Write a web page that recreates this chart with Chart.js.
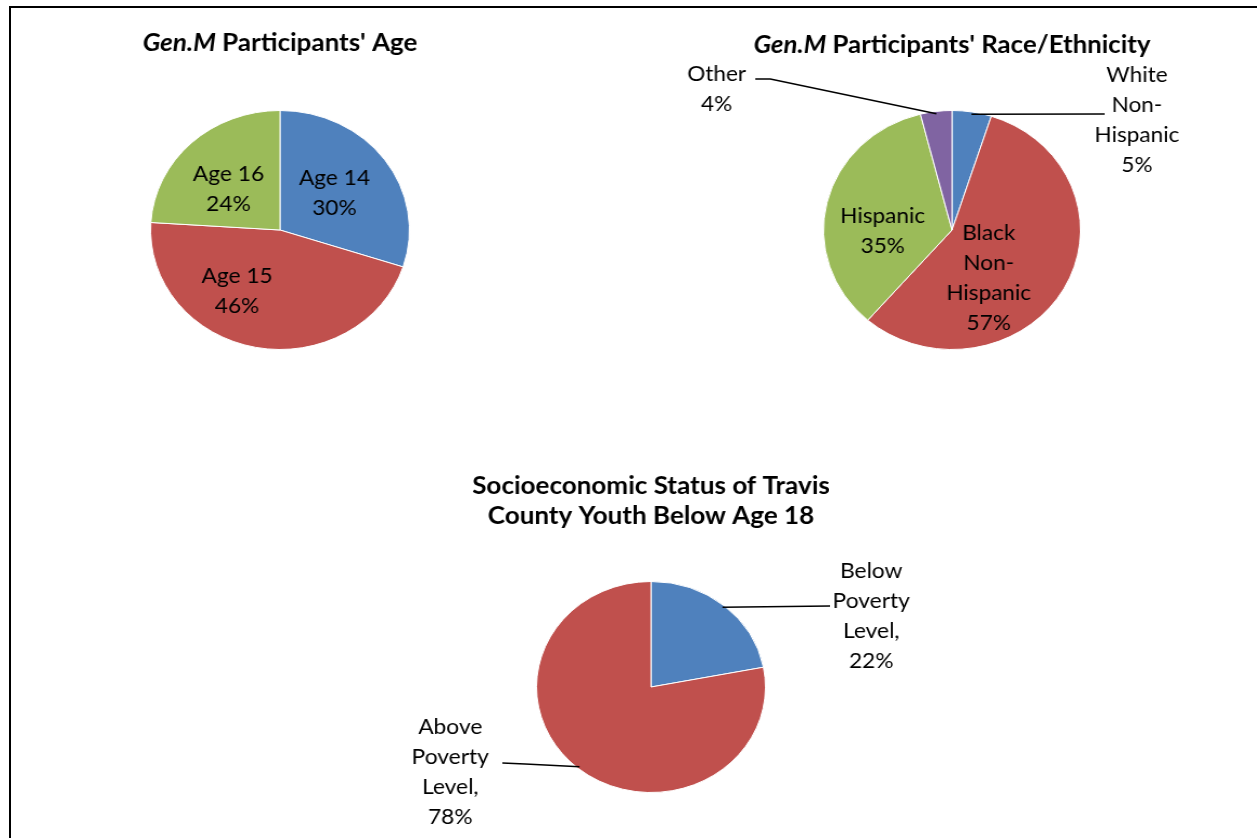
<!DOCTYPE html>
<html>
<head>
<meta charset="utf-8">
<title>Gen.M participants</title>
<script src="https://cdn.jsdelivr.net/npm/chart.js@4.4.0/dist/chart.umd.min.js"></script>
<style>
  html, body { margin: 0; padding: 0; background: #fff; }
  #page { position: relative; width: 1257px; height: 838px; overflow: hidden; background: #fff; }
  #frame { position: absolute; left: 9px; top: 6px; width: 1400px; height: 1000px; border: 2px solid #000; }
  canvas { position: absolute; }
</style>
</head>
<body>
<div id="page">
  <div id="frame"></div>
  <canvas id="ageChart" width="620" height="420"
    style="left:0;top:0;width:620px;height:420px;transform-origin:280px 230px;transform:scaleX(1.083);"></canvas>
  <canvas id="raceChart" width="637" height="420"
    style="left:620px;top:0;width:637px;height:420px;transform-origin:332px 230px;transform:scaleX(1.075);"></canvas>
  <canvas id="povertyChart" width="700" height="418"
    style="left:300px;top:420px;width:700px;height:418px;transform-origin:351px 267px;transform:scaleX(1.085);"></canvas>
</div>
<script>
// data
const ageLabels = ['Age 14', 'Age 15', 'Age 16'];
const ageValues = [30, 46, 24];

const raceLabels = ['White Non-Hispanic', 'Black Non-Hispanic', 'Hispanic', 'Other'];
const raceValues = [5, 57, 35, 4];

const povertyLabels = ['Below Poverty Level', 'Above Poverty Level'];
const povertyValues = [22, 78];

const blue = '#4F81BD', red = '#C0504D', green = '#9BBB59', purple = '#8064A2';

// labels on / around the slices
const pieLabels = {
  id: 'pieLabels',
  afterDatasetsDraw(chart, args, opts) {
    const ctx = chart.ctx;
    const meta = chart.getDatasetMeta(0);
    const values = chart.data.datasets[0].data;
    ctx.save();
    ctx.font = opts.font;
    ctx.fillStyle = '#000';
    ctx.strokeStyle = '#000';
    ctx.lineWidth = 1.5;
    ctx.textAlign = 'center';
    ctx.textBaseline = 'middle';
    meta.data.forEach((arc, i) => {
      const p = arc.getProps(['x', 'y', 'startAngle', 'endAngle', 'outerRadius'], true);
      const mid = (p.startAngle + p.endAngle) / 2;
      const place = opts.place[i];
      let name = chart.data.labels[i] + (opts.sep || '');
      let lines = place.split ? name.split(/ |(?<=-)/) : [name];
      lines.push(values[i] + '%');

      let cx, cy;
      if (place.out) {
        cx = p.x + place.x;
        cy = p.y + place.y;
        // leader line from the slice edge to the label
        ctx.beginPath();
        ctx.moveTo(p.x + Math.cos(mid) * p.outerRadius * 0.98, p.y + Math.sin(mid) * p.outerRadius * 0.98);
        place.leader.forEach(pt => ctx.lineTo(p.x + pt[0], p.y + pt[1]));
        ctx.stroke();
      } else {
        cx = p.x + Math.cos(mid) * p.outerRadius * place.f + (place.dx || 0);
        cy = p.y + Math.sin(mid) * p.outerRadius * place.f + (place.dy || 0);
      }
      lines.forEach((txt, k) => {
        ctx.fillText(txt, cx, cy + (k - (lines.length - 1) / 2) * opts.lineHeight);
      });
    });
    ctx.restore();
  }
};

// title with italic / bold runs
const pieTitle = {
  id: 'pieTitle',
  afterDraw(chart, args, opts) {
    const ctx = chart.ctx;
    const cx = chart.getDatasetMeta(0).data[0].x;
    ctx.save();
    ctx.fillStyle = '#000';
    ctx.textBaseline = 'alphabetic';
    ctx.textAlign = 'left';
    opts.lines.forEach((runs, k) => {
      let total = 0;
      runs.forEach(r => {
        ctx.font = (r.italic ? 'italic ' : '') + opts.font;
        total += ctx.measureText(r.text).width;
      });
      let x = cx - total / 2;
      runs.forEach(r => {
        ctx.font = (r.italic ? 'italic ' : '') + opts.font;
        ctx.fillText(r.text, x, opts.y[k]);
        x += ctx.measureText(r.text).width;
      });
    });
    ctx.restore();
  }
};

function makePie(id, labels, values, colors, padding, labelOpts, titleOpts) {
  return new Chart(document.getElementById(id), {
    type: 'pie',
    data: {
      labels: labels,
      datasets: [{
        data: values,
        backgroundColor: colors,
        borderColor: '#ffffff',
        borderWidth: 1,
        hoverOffset: 0
      }]
    },
    options: {
      responsive: false,
      animation: false,
      events: [],
      layout: { padding: padding },
      plugins: {
        legend: { display: false },
        tooltip: { enabled: false },
        pieLabels: labelOpts,
        pieTitle: titleOpts
      }
    },
    plugins: [pieLabels, pieTitle]
  });
}

const labelFont = '21px Lato';
const titleFont = 'bold 24px Lato';

makePie('ageChart', ageLabels, ageValues, [blue, red, green],
  { left: 160, top: 110, right: 220, bottom: 70 },
  {
    font: labelFont, lineHeight: 30,
    place: [
      { f: 0.52 },
      { f: 0.52, dx: -28, dy: 0 },
      { f: 0.52, dx: -5, dy: 5 }
    ]
  },
  {
    font: titleFont, y: [51],
    lines: [[{ text: 'Gen.M', italic: true }, { text: " Participants' Age" }]]
  });

makePie('raceChart', raceLabels, raceValues, [blue, red, green, purple],
  { left: 212, top: 110, right: 185, bottom: 70 },
  {
    font: labelFont, lineHeight: 30,
    place: [
      { out: true, split: true, x: 172, y: -110, leader: [[142, -116]] },
      { f: 0.52, split: true, dx: -20, dy: 18 },
      { f: 0.52, dx: -4, dy: 16 },
      { out: true, x: -219, y: -141, leader: [[-169, -151], [-183, -151]] }
    ]
  },
  {
    font: titleFont, y: [53],
    lines: [[{ text: 'Gen.M', italic: true }, { text: " Participants' Race/Ethnicity" }]]
  });

makePie('povertyChart', povertyLabels, povertyValues, [blue, red],
  { left: 245, top: 161, right: 243, bottom: 45 },
  {
    font: labelFont, lineHeight: 30, sep: ',',
    place: [
      { out: true, split: true, x: 203, y: -71, leader: [[165, -81]] },
      { out: true, split: true, x: -185, y: 85, leader: [[-116, 77], [-137, 76]] }
    ]
  },
  {
    font: titleFont, y: [74, 104],
    lines: [
      [{ text: 'Socioeconomic Status of Travis' }],
      [{ text: 'County Youth Below Age 18' }]
    ]
  });
</script>
</body>
</html>
